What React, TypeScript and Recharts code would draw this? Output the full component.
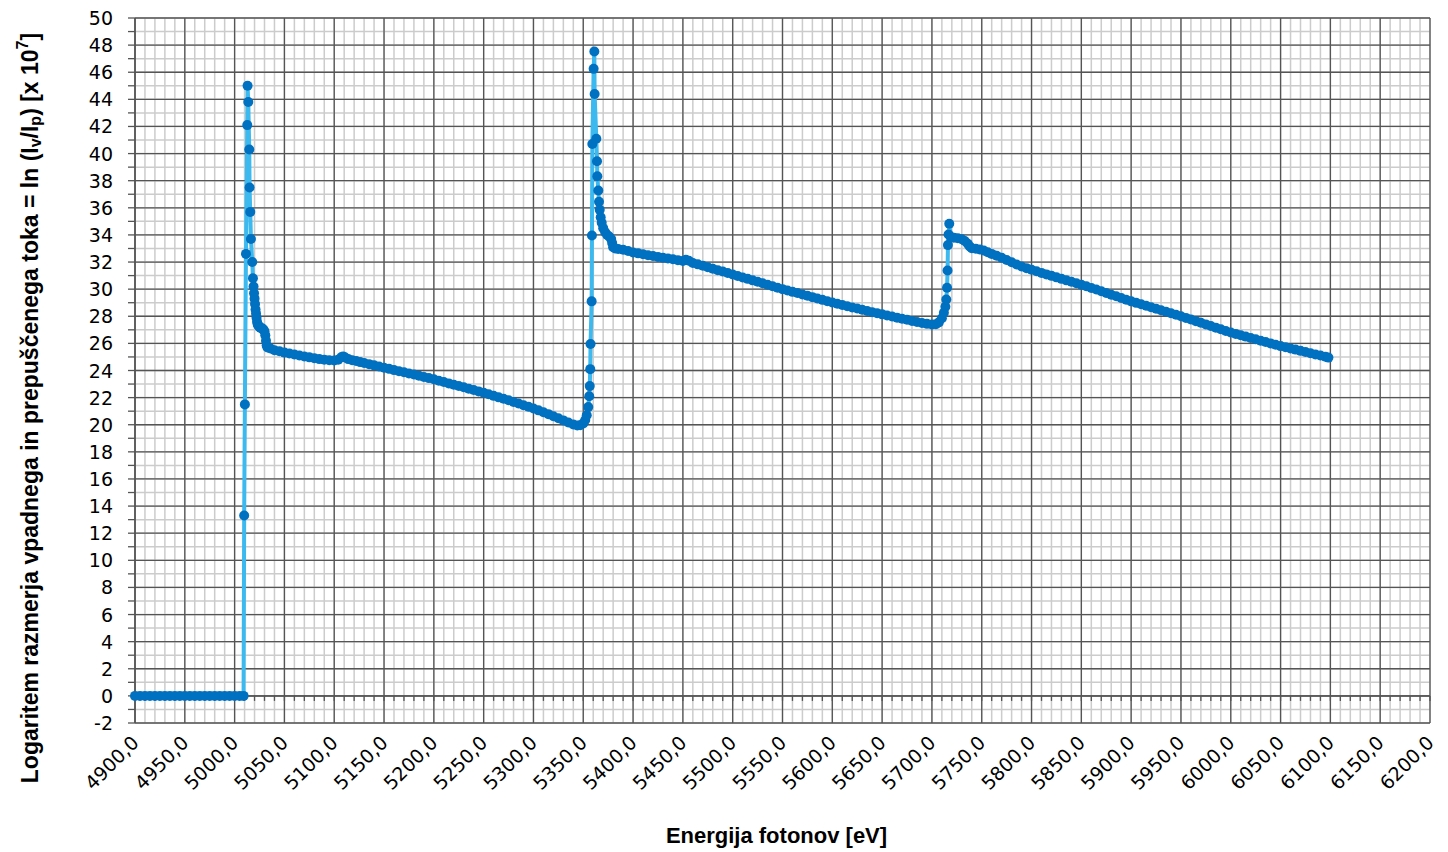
import React from 'react';
import { LineChart, Line, XAxis, YAxis, CartesianGrid, ReferenceLine, Label } from 'recharts';

// Energija (eV), ln(Iv/Ip) x 10^7 — izmerjeni pari po odsekih
const preEdge: [number, number][] = [
  [4900, 0], [4905, 0], [4910, 0], [4915, 0], [4920, 0], [4925, 0], [4930, 0], [4935, 0],
  [4940, 0], [4945, 0], [4950, 0], [4955, 0], [4960, 0], [4965, 0], [4970, 0], [4975, 0],
  [4980, 0], [4985, 0], [4990, 0], [4995, 0], [5000, 0], [5005, 0], [5009, 0],
];

const firstEdge: [number, number][] = [
  [5009.6, 13.3], [5010.3, 21.5], [5011.4, 32.6], [5012.7, 42.1], [5013.0, 45.0], [5013.7, 43.8],
  [5014.7, 40.3], [5015.0, 37.5], [5015.7, 35.7], [5016.4, 33.7], [5017.7, 32.0], [5018.4, 30.8],
  [5019.0, 30.2], [5019.5, 29.7], [5020.0, 29.3], [5020.5, 28.9], [5021.0, 28.5], [5021.5, 28.2],
  [5022.0, 27.9], [5022.5, 27.6], [5023.2, 27.4], [5024.0, 27.3], [5025.0, 27.2], [5026.0, 27.15],
  [5027.0, 27.1], [5028.0, 27.1], [5029.0, 27.0], [5030.0, 26.9], [5030.8, 26.6], [5031.5, 26.2],
  [5032.2, 25.85], [5033.0, 25.7],
];

const firstSlope: [number, number][] = [
  [5036, 25.62], [5040, 25.5], [5045, 25.42], [5050, 25.32], [5055, 25.25], [5060, 25.18],
  [5065, 25.1], [5070, 25.03], [5075, 24.97], [5080, 24.9], [5085, 24.84], [5090, 24.8],
  [5095, 24.76], [5100, 24.74], [5104, 24.8], [5107, 24.98], [5109, 25.04], [5111, 24.96],
  [5114, 24.84], [5118, 24.76], [5122, 24.7], [5126, 24.62], [5130, 24.55], [5135, 24.47],
  [5140, 24.38], [5145, 24.3], [5150, 24.2], [5155, 24.12], [5160, 24.03], [5165, 23.95],
  [5170, 23.87], [5175, 23.78], [5180, 23.7], [5185, 23.61], [5190, 23.52], [5195, 23.44],
  [5200, 23.35], [5205, 23.25], [5210, 23.15], [5215, 23.05], [5220, 22.95], [5225, 22.86],
  [5230, 22.76], [5235, 22.66], [5240, 22.56], [5245, 22.46], [5250, 22.36], [5255, 22.25],
  [5260, 22.13], [5265, 22.02], [5270, 21.91], [5275, 21.8], [5280, 21.68], [5285, 21.56],
  [5290, 21.44], [5295, 21.32], [5300, 21.2], [5305, 21.06], [5310, 20.92], [5315, 20.78],
  [5320, 20.63], [5325, 20.48], [5330, 20.32], [5335, 20.16], [5340, 20.02], [5344, 19.94],
  [5347, 19.96], [5350, 20.1], [5352, 20.35], [5353.5, 20.7], [5355, 21.3],
];

const secondEdge: [number, number][] = [
  [5356.0, 22.1], [5356.5, 22.85], [5357.0, 24.1], [5357.3, 25.95], [5358.4, 29.1], [5358.7, 33.96],
  [5359.1, 40.7], [5360.4, 46.25], [5361.1, 47.53], [5361.4, 44.4], [5363.1, 41.09], [5363.8, 39.44],
  [5364.1, 38.33], [5365.1, 37.28], [5365.8, 36.45], [5366.5, 35.85], [5367.5, 35.3], [5368.5, 34.9],
  [5370, 34.5], [5372, 34.2], [5374, 34.0], [5376, 33.88], [5378, 33.7], [5379, 33.4],
  [5380, 33.1], [5382, 33.0], [5385, 32.96], [5390, 32.9],
];

const secondSlope: [number, number][] = [
  [5395, 32.82], [5400, 32.7], [5405, 32.64], [5410, 32.57], [5415, 32.5], [5420, 32.44],
  [5425, 32.38], [5430, 32.32], [5435, 32.26], [5440, 32.2], [5445, 32.14], [5450, 32.08],
  [5453, 32.17], [5456, 32.1], [5460, 31.93], [5465, 31.83], [5470, 31.72], [5475, 31.62],
  [5480, 31.51], [5485, 31.4], [5490, 31.3], [5495, 31.19], [5500, 31.08], [5505, 30.97],
  [5510, 30.86], [5515, 30.76], [5520, 30.65], [5525, 30.54], [5530, 30.43], [5535, 30.33],
  [5540, 30.22], [5545, 30.11], [5550, 30.0], [5555, 29.9], [5560, 29.8], [5565, 29.71],
  [5570, 29.61], [5575, 29.51], [5580, 29.41], [5585, 29.31], [5590, 29.21], [5595, 29.11],
  [5600, 29.01], [5605, 28.92], [5610, 28.83], [5615, 28.74], [5620, 28.65], [5625, 28.57],
  [5630, 28.48], [5635, 28.39], [5640, 28.3], [5645, 28.22], [5650, 28.14], [5655, 28.06],
  [5660, 27.98], [5665, 27.9], [5670, 27.82], [5675, 27.74], [5680, 27.66], [5685, 27.58],
  [5690, 27.5], [5695, 27.44], [5700, 27.4], [5704, 27.42], [5707, 27.55], [5710, 27.85],
  [5712, 28.26],
];

const thirdEdge: [number, number][] = [
  [5713.5, 28.7], [5714.4, 29.24], [5715.2, 30.1], [5715.7, 31.38], [5716.1, 33.25], [5716.7, 34.03],
  [5717.4, 34.82], [5719, 33.85], [5722, 33.8], [5726, 33.75], [5730, 33.68], [5733, 33.55],
  [5736, 33.35], [5738, 33.15], [5740, 33.02], [5744, 32.98],
];

const thirdSlope: [number, number][] = [
  [5748, 32.92], [5752, 32.85], [5756, 32.72], [5760, 32.6], [5765, 32.47], [5770, 32.32],
  [5775, 32.15], [5780, 31.98], [5785, 31.82], [5790, 31.67], [5795, 31.55], [5800, 31.43],
  [5805, 31.32], [5810, 31.2], [5815, 31.09], [5820, 30.98], [5825, 30.87], [5830, 30.76],
  [5835, 30.65], [5840, 30.54], [5845, 30.44], [5850, 30.33], [5855, 30.21], [5860, 30.09],
  [5865, 29.97], [5870, 29.84], [5875, 29.72], [5880, 29.59], [5885, 29.47], [5890, 29.35],
  [5895, 29.22], [5900, 29.1], [5905, 28.99], [5910, 28.88], [5915, 28.77], [5920, 28.66],
  [5925, 28.55], [5930, 28.44], [5935, 28.33], [5940, 28.22], [5945, 28.11], [5950, 28.0],
  [5955, 27.88], [5960, 27.76], [5965, 27.64], [5970, 27.52], [5975, 27.4], [5980, 27.28],
  [5985, 27.16], [5990, 27.04], [5995, 26.92], [6000, 26.8], [6005, 26.7], [6010, 26.6],
  [6015, 26.5], [6020, 26.4], [6025, 26.3], [6030, 26.2], [6035, 26.1], [6040, 26.0],
  [6045, 25.9], [6050, 25.8], [6055, 25.71], [6060, 25.62], [6065, 25.54], [6070, 25.45],
  [6075, 25.36], [6080, 25.27], [6085, 25.18], [6090, 25.1], [6095, 25.01], [6098, 24.95],
];

const xTicks = [
  4900, 4950, 5000, 5050, 5100, 5150, 5200, 5250, 5300, 5350, 5400, 5450, 5500, 5550,
  5600, 5650, 5700, 5750, 5800, 5850, 5900, 5950, 6000, 6050, 6100, 6150, 6200,
];
const yLabels = [-2, 0, 2, 4, 6, 8, 10, 12, 14, 16, 18, 20, 22, 24, 26, 28, 30, 32, 34, 36, 38, 40, 42, 44, 46, 48, 50];

// minor grid: every 10 eV and every 1 unit
const xMinor = Array.from({ length: 131 }, (_, i) => 4900 + i * 10);
const yMinor = Array.from({ length: 53 }, (_, i) => -2 + i);

const data = [...preEdge, ...firstEdge, ...firstSlope, ...secondEdge, ...secondSlope, ...thirdEdge, ...thirdSlope]
  .map(([energy, value]) => ({ energy, value }));

const MAJOR = '#555555';
const MINOR = '#cccccc';
const tickFont = '"DejaVu Sans", sans-serif';
const titleFont = '"Liberation Sans Narrow", "Liberation Sans", sans-serif';

const formatEnergy = (v: number) => v.toFixed(1).replace('.', ',');

const EnergyTick = ({ x, y, payload }: any) => (
  <text
    x={x}
    y={y}
    transform={`rotate(-45, ${x}, ${y})`}
    textAnchor="end"
    dominantBaseline="central"
    fontFamily={tickFont}
    fontSize={19}
    fill="#000"
  >
    {formatEnergy(payload.value)}
  </text>
);

const ValueTick = ({ x, y, payload }: any) =>
  payload.value % 2 === 0 ? (
    <text x={x} y={y} textAnchor="end" dominantBaseline="central" fontFamily={tickFont} fontSize={19} fill="#000">
      {payload.value}
    </text>
  ) : (
    <g />
  );

const XTitle = ({ viewBox }: any) => (
  <text
    x={viewBox.x + viewBox.width / 2 - 6}
    y={835}
    textAnchor="middle"
    dominantBaseline="central"
    fontFamily={titleFont}
    fontWeight="bold"
    fontSize={22}
    fill="#000"
  >
    Energija fotonov [eV]
  </text>
);

const YTitle = () => (
  <text
    x={30}
    y={408}
    transform="rotate(-90, 30, 408)"
    textAnchor="middle"
    dominantBaseline="central"
    fontFamily={titleFont}
    fontWeight="bold"
    fontSize={23}
    fill="#000"
  >
    Logaritem razmerja vpadnega in prepuščenega toka = ln (I
    <tspan fontSize={16} dy={5}>v</tspan>
    <tspan dy={-5}>/I</tspan>
    <tspan fontSize={16} dy={5}>p</tspan>
    <tspan dy={-5}>) [x 10</tspan>
    <tspan fontSize={16} dy={-8}>7</tspan>
    <tspan dy={8}>]</tspan>
  </text>
);

export default function App() {
  return (
    <div style={{ position: 'absolute', left: 0, top: 0, background: '#fff' }}>
      <LineChart width={1448} height={852} data={data} margin={{ top: 18, right: 18, bottom: 0, left: 0 }}>
        <CartesianGrid stroke={MINOR} strokeWidth={1.5} verticalValues={xMinor} horizontalValues={yMinor} />
        <CartesianGrid stroke={MAJOR} strokeWidth={1.3} verticalValues={xTicks} horizontalValues={yLabels} />
        <XAxis
          type="number"
          dataKey="energy"
          domain={[4900, 6200]}
          ticks={xTicks}
          interval={0}
          axisLine={false}
          tickLine={false}
          tickSize={0}
          tickMargin={16}
          height={129}
          tick={<EnergyTick />}
        >
          <Label content={<XTitle />} />
        </XAxis>
        <YAxis
          type="number"
          domain={[-2, 50]}
          ticks={yMinor}
          interval={0}
          width={135}
          axisLine={{ stroke: MAJOR, strokeWidth: 1.5 }}
          tickLine={{ stroke: MAJOR, strokeWidth: 1.3 }}
          tickSize={7}
          tickMargin={15}
          tick={<ValueTick />}
        >
          <Label content={<YTitle />} />
        </YAxis>
        <ReferenceLine y={0} stroke={MAJOR} strokeWidth={1.5} />
        {xMinor.map((e) => (
          <ReferenceLine
            key={e}
            segment={[{ x: e, y: 0 }, { x: e, y: -0.37 }]}
            stroke={MAJOR}
            strokeWidth={1.3}
          />
        ))}
        <Line
          type="linear"
          dataKey="value"
          stroke="#3cb9ee"
          strokeWidth={4}
          dot={{ r: 5, fill: '#0070c0', stroke: '#0070c0', strokeWidth: 0 }}
          activeDot={false}
          isAnimationActive={false}
        />
      </LineChart>
    </div>
  );
}
